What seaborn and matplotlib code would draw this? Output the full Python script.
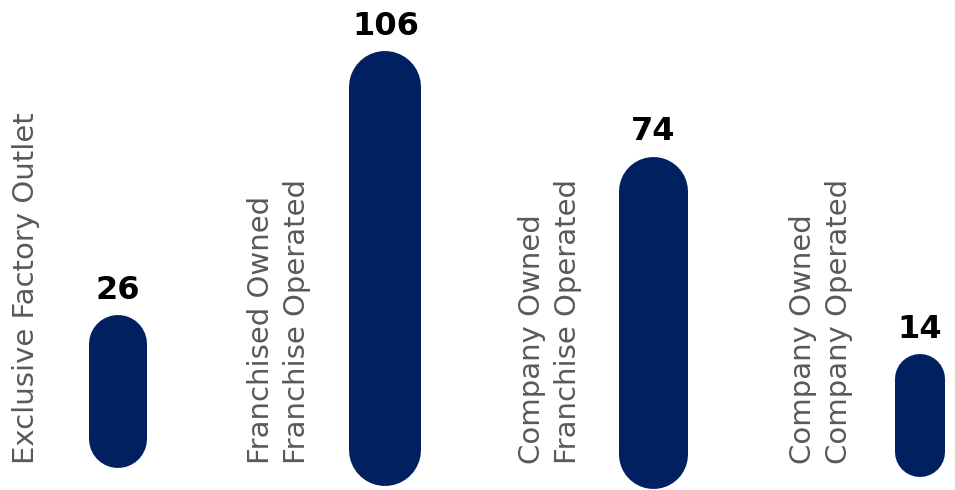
import matplotlib
matplotlib.use("Agg")
import matplotlib.pyplot as plt
import seaborn as sns
import pandas as pd

# ---- data ----
categories = [
    "Exclusive Factory Outlet",
    "Franchised Owned\nFranchise Operated",
    "Company Owned\nFranchise Operated",
    "Company Owned\nCompany Operated",
]
values = [26, 106, 74, 14]

# ---- style / layout ----
BAR_COLOR = "#002060"
LABEL_COLOR = "#595959"
BAR_WIDTH_PX = [58, 72, 69, 50]
BAR_EXTEND_PX = [68, 86, 88, 77]       # how far each pill reaches below the zero line
LABEL_DX_PX = [-92, -106, -103, -99]   # category label offset from bar centre
LABEL_BOTTOM_PX = 464                  # pixel row (from top) where labels start
VALUE_GAP_PX = 16

W, H, DPI = 955, 490, 100
sns.set_theme(style="white")
plt.rcParams["font.family"] = ["DejaVu Sans"]

fig = plt.figure(figsize=(W / DPI, H / DPI), dpi=DPI)
ax = fig.add_axes([0, 0, 1, 1])

df = pd.DataFrame({"cat": categories, "val": values})
sns.barplot(data=df, x="cat", y="val", color=BAR_COLOR, saturation=1,
            width=0.25, ax=ax)

XLIM = (-0.4414, 3.131)
YLIM = (-27.26, 121.47)
ax.set_xlim(*XLIM)
ax.set_ylim(*YLIM)
ax.axis("off")

ppx = W / (XLIM[1] - XLIM[0])
ppy = H / (YLIM[1] - YLIM[0])


def py_to_data(py):
    return YLIM[1] - py / ppy


patches = list(ax.patches)
for i, p in enumerate(patches):
    xc = p.get_x() + p.get_width() / 2
    top = p.get_y() + p.get_height()
    p.remove()
    wpx = BAR_WIDTH_PX[i]
    r = (wpx / 2) / ppy
    bottom = -BAR_EXTEND_PX[i] / ppy
    # pill shape: thick line with round caps spanning bottom..top
    ax.plot([xc, xc], [bottom + r, top - r], color=BAR_COLOR,
            lw=wpx * 72 / DPI, solid_capstyle="round")
    ax.text(xc, top + VALUE_GAP_PX / ppy, f"{values[i]}", ha="center",
            va="baseline", fontsize=23, fontweight="bold", color="black")
    ax.text(xc + LABEL_DX_PX[i] / ppx, py_to_data(LABEL_BOTTOM_PX),
            categories[i], rotation=90, ha="center", va="bottom",
            multialignment="left", fontsize=21, color=LABEL_COLOR,
            linespacing=1.37)

fig.savefig("out.png", dpi=DPI, facecolor="white")
